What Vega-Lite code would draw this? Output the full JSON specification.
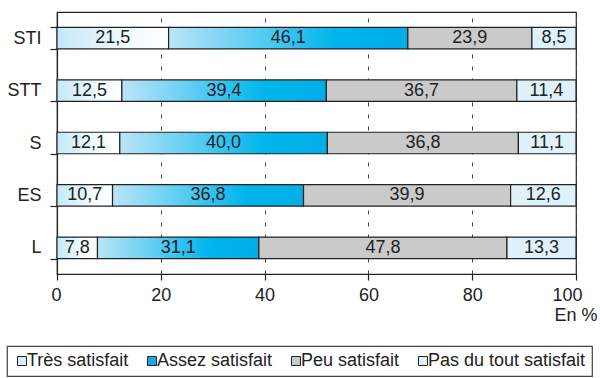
{
  "$schema": "https://vega.github.io/schema/vega-lite/v6.json",
  "width": 519,
  "height": 262,
  "autosize": {"type": "none"},
  "padding": {"left": 57, "top": 12, "right": 24, "bottom": 104},
  "config": {
    "font": "Liberation Sans",
    "locale": {
      "number": {"decimal": ",", "thousands": "\u00a0", "grouping": [3], "currency": ["", "\u00a0€"]}
    },
    "view": {"stroke": "#222222", "strokeWidth": 1.2},
    "axis": {
      "labelFont": "Liberation Sans",
      "labelFontSize": 18,
      "labelColor": "#222222",
      "domainColor": "#222222",
      "domainWidth": 1.2,
      "tickColor": "#222222",
      "tickWidth": 1.2
    }
  },
  "data": {
    "values": [
      {"filiere": "STI", "categorie": "Très satisfait", "rang": 1, "valeur": 21.5},
      {"filiere": "STI", "categorie": "Assez satisfait", "rang": 2, "valeur": 46.1},
      {"filiere": "STI", "categorie": "Peu satisfait", "rang": 3, "valeur": 23.9},
      {"filiere": "STI", "categorie": "Pas du tout satisfait", "rang": 4, "valeur": 8.5},
      {"filiere": "STT", "categorie": "Très satisfait", "rang": 1, "valeur": 12.5},
      {"filiere": "STT", "categorie": "Assez satisfait", "rang": 2, "valeur": 39.4},
      {"filiere": "STT", "categorie": "Peu satisfait", "rang": 3, "valeur": 36.7},
      {"filiere": "STT", "categorie": "Pas du tout satisfait", "rang": 4, "valeur": 11.4},
      {"filiere": "S", "categorie": "Très satisfait", "rang": 1, "valeur": 12.1},
      {"filiere": "S", "categorie": "Assez satisfait", "rang": 2, "valeur": 40.0},
      {"filiere": "S", "categorie": "Peu satisfait", "rang": 3, "valeur": 36.8},
      {"filiere": "S", "categorie": "Pas du tout satisfait", "rang": 4, "valeur": 11.1},
      {"filiere": "ES", "categorie": "Très satisfait", "rang": 1, "valeur": 10.7},
      {"filiere": "ES", "categorie": "Assez satisfait", "rang": 2, "valeur": 36.8},
      {"filiere": "ES", "categorie": "Peu satisfait", "rang": 3, "valeur": 39.9},
      {"filiere": "ES", "categorie": "Pas du tout satisfait", "rang": 4, "valeur": 12.6},
      {"filiere": "L", "categorie": "Très satisfait", "rang": 1, "valeur": 7.8},
      {"filiere": "L", "categorie": "Assez satisfait", "rang": 2, "valeur": 31.1},
      {"filiere": "L", "categorie": "Peu satisfait", "rang": 3, "valeur": 47.8},
      {"filiere": "L", "categorie": "Pas du tout satisfait", "rang": 4, "valeur": 13.3}
    ]
  },
  "transform": [
    {
      "stack": "valeur",
      "groupby": ["filiere"],
      "sort": [{"field": "rang", "order": "ascending"}],
      "as": ["debut", "fin"]
    },
    {"calculate": "(datum.debut + datum.fin) / 2", "as": "centre"}
  ],
  "encoding": {
    "y": {
      "field": "filiere",
      "type": "nominal",
      "sort": ["STI", "STT", "S", "ES", "L"],
      "scale": {"paddingInner": 0.59, "paddingOuter": 0.295},
      "axis": {
        "title": null,
        "tickSize": 7,
        "labelPadding": 9,
        "tickBand": "extent",
        "grid": false
      }
    }
  },
  "layer": [
    {
      "mark": {"type": "bar", "stroke": "#222222", "strokeWidth": 1.2},
      "encoding": {
        "x": {
          "field": "debut",
          "type": "quantitative",
          "scale": {"domain": [0, 100], "nice": false},
          "axis": {
            "title": "En %",
            "values": [0, 20, 40, 60, 80, 100],
            "grid": true,
            "gridColor": "#444444",
            "gridDash": [4, 8],
            "gridWidth": 1,
            "tickSize": 6,
            "labelPadding": 6,
            "labelFlush": true,
            "labelFlushOffset": 6,
            "titleFont": "Liberation Sans",
            "titleFontSize": 18,
            "titleFontWeight": "normal",
            "titleColor": "#222222",
            "titleAnchor": "end",
            "titleAlign": "right",
            "titleBaseline": "alphabetic",
            "titleX": 540,
            "titleY": 46
          }
        },
        "x2": {"field": "fin"},
        "color": {
          "field": "categorie",
          "type": "nominal",
          "scale": {
            "domain": ["Très satisfait", "Assez satisfait", "Peu satisfait", "Pas du tout satisfait"],
            "range": ["#d6effb", "#12ace6", "#cacaca", "#dff1fb"]
          },
          "condition": [
            {
              "test": "datum.categorie === 'Très satisfait'",
              "value": {
                "gradient": "linear", "x1": 0, "y1": 0, "x2": 1, "y2": 0,
                "stops": [
                  {"offset": 0, "color": "#c4e8f9"},
                  {"offset": 0.65, "color": "#f4fbfe"},
                  {"offset": 1, "color": "#ffffff"}
                ]
              }
            },
            {
              "test": "datum.categorie === 'Assez satisfait'",
              "value": {
                "gradient": "linear", "x1": 0, "y1": 0, "x2": 1, "y2": 0,
                "stops": [
                  {"offset": 0, "color": "#bce5f8"},
                  {"offset": 0.7, "color": "#00b5ec"},
                  {"offset": 1, "color": "#00aee8"}
                ]
              }
            }
          ],
          "legend": {
            "title": null,
            "orient": "none",
            "direction": "horizontal",
            "legendX": -50,
            "legendY": 334,
            "symbolType": "square",
            "symbolSize": 81,
            "symbolStrokeColor": "#222222",
            "symbolStrokeWidth": 1,
            "symbolOpacity": 1,
            "labelFont": "Liberation Sans",
            "labelFontSize": 18,
            "labelColor": "#222222",
            "labelOffset": -4,
            "labelLimit": 400,
            "columnPadding": 14,
            "padding": 6,
            "strokeColor": "#444444",
            "encode": {"legend": {"update": {"strokeWidth": {"value": 1.2}}}}
          }
        }
      }
    },
    {
      "mark": {"type": "text", "fontSize": 18, "color": "#222222", "font": "Liberation Sans"},
      "encoding": {
        "x": {"field": "centre", "type": "quantitative"},
        "text": {"field": "valeur", "type": "quantitative", "format": ".1f"}
      }
    }
  ]
}
